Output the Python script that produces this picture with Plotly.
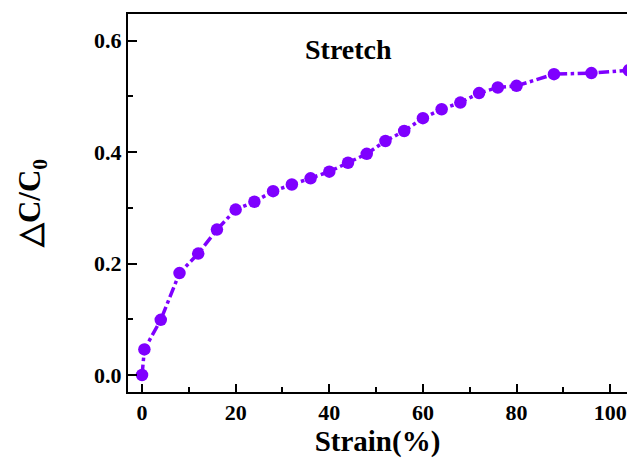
import plotly.graph_objects as go

strain = [0, 0.5, 4, 8, 12, 16, 20, 24, 28, 32, 36, 40, 44, 48, 52, 56, 60, 64, 68, 72, 76, 80, 88, 96, 104]
dC = [0.0, 0.046, 0.099, 0.183, 0.218, 0.261, 0.297, 0.311, 0.330, 0.342, 0.353, 0.365,
      0.381, 0.397, 0.420, 0.438, 0.461, 0.477, 0.489, 0.506, 0.516, 0.519, 0.540, 0.542, 0.547]

x_ticks = [0, 20, 40, 60, 80, 100]
y_ticks = [0.0, 0.2, 0.4, 0.6]
y_tick_text = ["0.0", "0.2", "0.4", "0.6"]

color = "#7F00FF"
font = "Liberation Serif, Times New Roman, serif"

fig = go.Figure()
fig.add_trace(go.Scatter(
    x=strain, y=dC, mode="lines+markers",
    line=dict(color=color, width=3.5, dash="dashdot"),
    marker=dict(color=color, size=12.5),
    showlegend=False,
))

fig.update_layout(
    width=627, height=461,
    margin=dict(l=128, r=0, t=14, b=69),
    plot_bgcolor="white", paper_bgcolor="white",
    font=dict(family=font, color="black"),
    annotations=[dict(
        text="<b>Stretch</b>", x=0.442, y=0.905, xref="paper", yref="paper",
        showarrow=False, font=dict(size=28, family=font, color="black"),
        xanchor="center", yanchor="middle",
    )],
)

fig.update_xaxes(
    range=[-3, 103.6], tickvals=x_ticks, ticktext=[f"<b>{v}</b>" for v in x_ticks],
    ticks="inside", ticklen=8, tickwidth=2, tickcolor="black",
    minor=dict(dtick=10, tick0=0, ticks="inside", ticklen=5, tickwidth=2, tickcolor="black"),
    showline=True, linewidth=2, linecolor="black", mirror=True,
    showgrid=False, zeroline=False,
    tickfont=dict(size=22, family=font),
    title=dict(text="<b>Strain(%)</b>", font=dict(size=29, family=font), standoff=6),
)
fig.update_yaxes(
    range=[-0.0305, 0.648], tickvals=y_ticks, ticktext=[f"<b>{t}</b>" for t in y_tick_text],
    ticks="inside", ticklen=9, tickwidth=2, tickcolor="black",
    minor=dict(dtick=0.1, tick0=0, ticks="inside", ticklen=5, tickwidth=2, tickcolor="black"),
    showline=True, linewidth=2, linecolor="black", mirror=False,
    showgrid=False, zeroline=False,
    tickfont=dict(size=22, family=font),
    title=dict(text="<b>△C/C<sub>0</sub></b>", font=dict(size=31, family=font), standoff=44),
)

fig.write_html(
    "out.html",
    config={"displayModeBar": False},
    post_script="document.body.style.margin='0px';document.body.style.overflow='hidden';",
)
